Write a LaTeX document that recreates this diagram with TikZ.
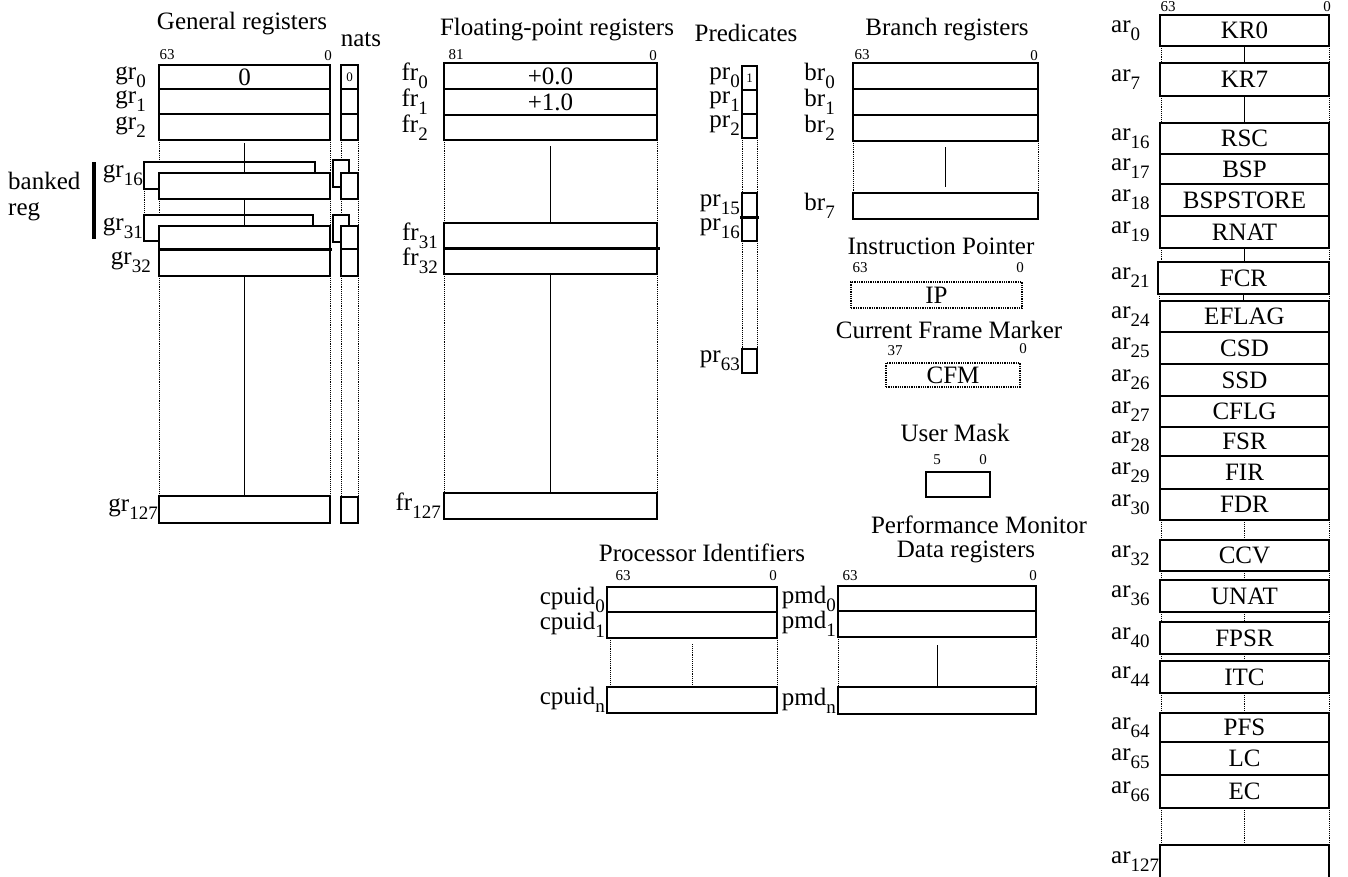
\documentclass[tikz,border=0pt]{standalone}
\usepackage{fontspec}
\setmainfont{Liberation Serif}
\usetikzlibrary{positioning}

% register name with a lowered index
\newcommand{\rg}[2]{#1\raisebox{-0.7ex}{\fontsize{19}{19}\selectfont #2}}

\begin{document}
\begin{tikzpicture}[x=1pt, y=-1pt, font=\fontsize{25}{27}\selectfont,
  reg/.style={draw, line width=1.3pt, fill=white, inner sep=0pt,
              outer sep=0pt, anchor=north west},
  pend/.style={draw, densely dotted, line width=1.3pt, inner sep=0pt,
               outer sep=0pt, anchor=north west},
  grw/.style={minimum width=171pt},
  natw/.style={minimum width=17pt},
  frw/.style={minimum width=213pt},
  prw/.style={minimum width=15pt},
  brw/.style={minimum width=185pt},
  arw/.style={minimum width=169pt},
  lbl/.style={inner sep=0pt},
  ttl/.style={inner sep=0pt},
  bit/.style={inner sep=0pt, font=\fontsize{15}{15}\selectfont},
  gapline/.style={densely dotted, line width=0.9pt},
  midline/.style={line width=1pt},
  seamline/.style={line width=3pt}]

  \useasboundingbox (0,0) rectangle (1348,876);

  % General registers
  \node[ttl] (tgr) at (242,24) {General registers};
  \node[ttl] (tnat) at (361,40) {nats};
  \node[bit] (gr63) at (167,55) {63};
  \node[bit] (gr00) at (328,56) {0};
  \node[reg, grw, minimum height=24pt] (gr0) at (159,65) {0};
  \node[reg, grw, minimum height=25pt] (gr1) at (gr0.south west) {};
  \node[reg, grw, minimum height=26pt] (gr2) at (gr1.south west) {};
  \node[reg, grw, minimum height=27pt] (gr16b) at (144,162) {};
  \node[reg, grw, minimum height=26pt] (gr16) at (159,173) {};
  \node[reg, grw, minimum width=169pt, minimum height=26pt] (gr31b) at (144,215) {};
  \node[reg, grw, minimum height=23pt] (gr31) at (159,226) {};
  \node[reg, grw, minimum height=27pt] (gr32) at (gr31.south west) {};
  \node[reg, grw, minimum height=27pt] (gr127) at (159,496) {};
  \node[lbl, left=13pt of gr0] (lgr0) {\rg{gr}{0}};
  \node[lbl, left=13pt of gr1] (lgr1) {\rg{gr}{1}};
  \node[lbl, left=13pt of gr2] (lgr2) {\rg{gr}{2}};
  \node[lbl, left=1pt of gr16b] (lgr16) {\rg{gr}{16}};
  \node[lbl, left=1pt of gr31b] (lgr31) {\rg{gr}{31}};
  \node[lbl, left=8pt of gr32] (lgr32) {\rg{gr}{32}};
  \node[lbl, left=1pt of gr127] (lgr127) {\rg{gr}{127}};
  \draw[gapline] (gr2.south west) -- (gr2.south west |- gr16b.north);
  \draw[gapline] (gr2.south east) -- (gr16.north east);
  \draw[gapline] (gr16.south west) -- (gr16.south west |- gr31b.north);
  \draw[gapline] (gr16.south east) -- (gr31.north east);
  \draw[gapline] (gr16b.south west) -- (gr31b.north west);
  \draw[gapline] (gr32.south west) -- (gr127.north west);
  \draw[gapline] (gr32.south east) -- (gr127.north east);
  \draw[midline] ([yshift=-3pt]gr2.south) -- (gr16.north);
  \draw[midline] (gr16.south) -- (gr31.north);
  \draw[midline] (gr32.south) -- (gr127.north);
  \draw[seamline] (gr32.north west) -- ([xshift=2pt]gr32.north east);

  % banked registers
  \node[lbl, anchor=base west] (bank) at (8,189) {banked};
  \node[lbl, anchor=base west] (bankreg) at (8,215) {reg};
  \draw[line width=4.5pt] (94,162) -- (94,239);

  % NaT bits
  \node[reg, natw, minimum height=24pt] (nat0) at (341,65) {\fontsize{13}{13}\selectfont 0};
  \node[reg, natw, minimum height=25pt] (nat1) at (nat0.south west) {};
  \node[reg, natw, minimum height=26pt] (nat2) at (nat1.south west) {};
  \node[reg, minimum width=16pt, minimum height=27pt] (nat16b) at (333,160) {};
  \node[reg, natw, minimum height=26pt] (nat16) at (341,173) {};
  \node[reg, minimum width=16pt, minimum height=27pt] (nat31b) at (333,215) {};
  \node[reg, natw, minimum height=23pt] (nat31) at (341,226) {};
  \node[reg, natw, minimum height=27pt] (nat32) at (nat31.south west) {};
  \node[reg, natw, minimum height=26pt] (nat127) at (341,497) {};
  \draw[gapline] (nat2.south west) -- (nat2.south west |- nat16b.north);
  \draw[gapline] (nat2.south east) -- (nat16.north east);
  \draw[gapline] (nat16.south west) -- (nat16.south west |- nat31b.north);
  \draw[gapline] (nat16.south east) -- (nat31.north east);
  \draw[gapline] (nat32.south west) -- (nat127.north west);
  \draw[gapline] (nat32.south east) -- (nat127.north east);

  % Floating-point registers
  \node[ttl] (tfr) at (557,30) {Floating-point registers};
  \node[bit] (fr81) at (456,55) {81};
  \node[bit] (fr00) at (653,56) {0};
  \node[reg, frw, minimum height=26pt] (fr0) at (444,63) {+0.0};
  \node[reg, frw, minimum height=26pt] (fr1) at (fr0.south west) {+1.0};
  \node[reg, frw, minimum height=25pt] (fr2) at (fr1.south west) {};
  \node[reg, frw, minimum height=25pt] (fr31) at (444,223) {};
  \node[reg, frw, minimum height=26pt] (fr32) at (fr31.south west) {};
  \node[reg, frw, minimum height=26pt] (fr127) at (444,493) {};
  \node[lbl, left=16pt of fr0] (lfr0) {\rg{fr}{0}};
  \node[lbl, left=16pt of fr1] (lfr1) {\rg{fr}{1}};
  \node[lbl, left=16pt of fr2] (lfr2) {\rg{fr}{2}};
  \node[lbl, left=6pt of fr31] (lfr31) {\rg{fr}{31}};
  \node[lbl, left=6pt of fr32] (lfr32) {\rg{fr}{32}};
  \node[lbl, left=3pt of fr127] (lfr127) {\rg{fr}{127}};
  \draw[gapline] (fr2.south west) -- (fr31.north west);
  \draw[gapline] (fr2.south east) -- (fr31.north east);
  \draw[gapline] (fr32.south west) -- (fr127.north west);
  \draw[gapline] (fr32.south east) -- (fr127.north east);
  \draw[midline] ([yshift=-6pt]fr2.south) -- (fr31.north);
  \draw[midline] (fr32.south) -- (fr127.north);
  \draw[seamline] (fr32.north west) -- ([xshift=3pt]fr32.north east);

  % Predicates
  \node[ttl] (tpr) at (746,33) {Predicates};
  \node[reg, prw, minimum height=24pt] (pr0) at (742,66) {\fontsize{13}{13}\selectfont 1};
  \node[reg, prw, minimum height=24pt] (pr1) at (pr0.south west) {};
  \node[reg, prw, minimum height=24pt] (pr2) at (pr1.south west) {};
  \node[reg, prw, minimum height=24pt] (pr15) at (742,193) {};
  \node[reg, prw, minimum height=24pt] (pr16) at (pr15.south west) {};
  \node[reg, prw, minimum height=24pt] (pr63) at (742,349) {};
  \foreach \k in {0,1,2,15,16,63}
    \node[lbl, left=2pt of pr\k] (lpr\k) {\rg{pr}{\k}};
  \draw[gapline] (pr2.south west) -- (pr15.north west);
  \draw[gapline] (pr2.south east) -- (pr15.north east);
  \draw[gapline] (pr16.south west) -- (pr63.north west);
  \draw[gapline] (pr16.south east) -- (pr63.north east);
  \draw[seamline] ([xshift=-2pt]pr16.north west) -- ([xshift=2pt]pr16.north east);

  % Branch registers
  \node[ttl] (tbr) at (947,30) {Branch registers};
  \node[bit] (br63) at (862,55) {63};
  \node[bit] (br00) at (1034,56) {0};
  \node[reg, brw, minimum height=26pt] (br0) at (853,63) {};
  \node[reg, brw, minimum height=26pt] (br1) at (br0.south west) {};
  \node[reg, brw, minimum height=26pt] (br2) at (br1.south west) {};
  \node[reg, brw, minimum height=26pt] (br7) at (853,193) {};
  \foreach \k in {0,1,2,7}
    \node[lbl, left=18pt of br\k] (lbr\k) {\rg{br}{\k}};
  \draw[gapline] (br2.south west) -- (br7.north west);
  \draw[gapline] (br2.south east) -- (br7.north east);
  \draw[midline] ([yshift=-6pt]br2.south) -- ([yshift=6pt]br7.north);

  % Instruction pointer, frame marker, user mask
  \node[ttl] (tip) at (941,246) {Instruction Pointer};
  \node[bit] (ip63) at (860,268) {63};
  \node[bit] (ip00) at (1020,268) {0};
  \node[pend, minimum width=171pt, minimum height=26pt] (ip) at (851,282) {IP};
  \node[ttl] (tcfm) at (949,330) {Current Frame Marker};
  \node[bit] (cfm37) at (895,351) {37};
  \node[bit] (cfm00) at (1023,349) {0};
  \node[pend, minimum width=134pt, minimum height=24pt] (cfm) at (886,363) {CFM};
  \node[ttl] (tum) at (955,433) {User Mask};
  \node[bit] (um5) at (937,460) {5};
  \node[bit] (um0) at (983,460) {0};
  \node[reg, minimum width=64pt, minimum height=25pt] (um) at (926,472) {};

  % Processor identifiers
  \node[ttl] (tcpu) at (702,553) {Processor Identifiers};
  \node[bit] (cpu63) at (623,576) {63};
  \node[bit] (cpu00) at (773,576) {0};
  \node[reg, minimum width=170pt, minimum height=25pt] (cpuid0) at (607,587) {};
  \node[reg, minimum width=170pt, minimum height=26pt] (cpuid1) at (cpuid0.south west) {};
  \node[reg, minimum width=170pt, minimum height=26pt] (cpuidn) at (607,687) {};
  \foreach \k in {0,1,n}
    \node[lbl, left=2pt of cpuid\k] (lcpuid\k) {\rg{cpuid}{\k}};
  \draw[gapline] ([xshift=3pt]cpuid1.south west) -- ([xshift=3pt]cpuidn.north west);
  \draw[gapline] (cpuid1.south east) -- (cpuidn.north east);
  \draw[gapline] ([yshift=-6pt]cpuid1.south) -- ([yshift=1pt]cpuidn.north);

  % Performance monitor data registers
  \node[ttl] (tpm) at (979,525) {Performance Monitor};
  \node[ttl] (tpmd) at (966,552) {Data registers};
  \node[bit] (pmd63) at (850,576) {63};
  \node[bit] (pmd00) at (1033,576) {0};
  \node[reg, minimum width=198pt, minimum height=25pt] (pmd0) at (838,586) {};
  \node[reg, minimum width=198pt, minimum height=26pt] (pmd1) at (pmd0.south west) {};
  \node[reg, minimum width=198pt, minimum height=27pt] (pmdn) at (838,687) {};
  \foreach \k in {0,1,n}
    \node[lbl, left=2pt of pmd\k] (lpmd\k) {\rg{pmd}{\k}};
  \draw[gapline] (pmd1.south west) -- (pmdn.north west);
  \draw[gapline] (pmd1.south east) -- (pmdn.north east);
  \draw[midline] ([yshift=-8pt]pmd1.south) -- (pmdn.north);

  % Application registers
  \node[bit] (ar63) at (1168,6.5) {63};
  \node[bit] (ar00) at (1327,6.5) {0};
  \foreach \k/\ya/\hh/\nm in {0/15/31/KR0, 7/63/33/KR7, 16/123/31/RSC, 17/154/30/BSP,
      18/184/32/BSPSTORE, 19/216/32/RNAT, 24/301/31/EFLAG, 25/332/32/CSD,
      26/364/32/SSD, 27/396/31/CFLG, 28/427/29/FSR, 29/456/33/FIR,
      30/489/31/FDR, 32/540/31/CCV, 36/580/32/UNAT, 40/622/32/FPSR,
      44/661/32/ITC, 64/713/29/PFS, 65/742/33/LC, 66/775/33/EC}
  {
    \node[reg, arw, minimum height=\hh pt] (ar\k) at (1160,\ya) {\nm};
    \node[lbl, left=49pt of ar\k, anchor=west] (lar\k) {\rg{ar}{\k}};
  }
  \node[reg, minimum width=171pt, minimum height=32pt] (ar21) at (1158,262) {FCR};
  \node[lbl, left=47pt of ar21, anchor=west] (lar21) {\rg{ar}{21}};
  \node[reg, arw, minimum height=60pt] (ar127) at (1160,845) {};
  \node[lbl, anchor=west] (lar127) at (1111,862) {\rg{ar}{127}};
  \foreach \a/\b in {0/7, 7/16, 19/21, 21/24, 30/32, 32/36, 36/40, 40/44, 44/64, 66/127}
  {
    \draw[gapline] ([xshift=1pt]ar\a.south west) -- ([xshift=1pt]ar\a.south west |- ar\b.north);
    \draw[gapline] (ar\a.south east) -- (ar\a.south east |- ar\b.north);
  }
  \foreach \a/\b in {0/7, 7/16, 19/21, 21/24}
    \draw[midline] (ar\a.south) -- (ar\a.south |- ar\b.north);
  \foreach \a/\b in {30/32, 32/36, 36/40, 40/44, 44/64, 66/127}
    \draw[gapline] (ar\a.south) -- (ar\a.south |- ar\b.north);
\end{tikzpicture}
\end{document}
